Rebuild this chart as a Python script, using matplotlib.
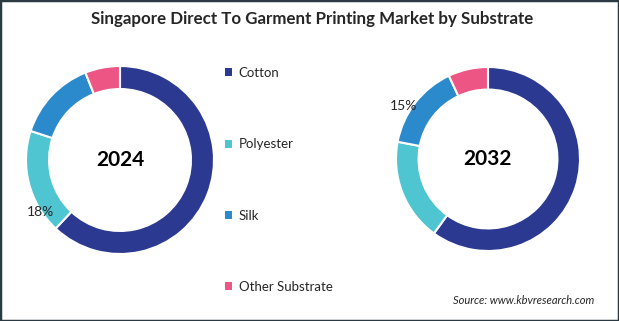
import matplotlib
matplotlib.use('Agg')
import matplotlib.pyplot as plt
from matplotlib.patches import Patch, Rectangle

# data
substrates = ['Cotton', 'Polyester', 'Silk', 'Other Substrate']
share_2024 = [62, 18, 14, 6]
share_2032 = [60, 18, 15, 7]
colors = ['#2B3990', '#4EC5D0', '#2A8ACB', '#EC5584']

plt.rcParams['font.family'] = ['Lato', 'DejaVu Sans']

fig = plt.figure(figsize=(6.19, 3.21), dpi=100)
fig.patch.set_facecolor('white')

W, H = 619, 321


def donut(cx, cy, r, values, year, label_idx, label_xy):
    ax = fig.add_axes([(cx - r) / W, 1 - (cy + r) / H, 2 * r / W, 2 * r / H])
    wedges, _ = ax.pie(values, colors=colors, startangle=90, counterclock=False,
                       radius=1, wedgeprops=dict(width=0.245, edgecolor='white', linewidth=1.5))
    ax.set_xlim(-1, 1)
    ax.set_ylim(-1, 1)
    ax.set_aspect('equal')
    ax.axis('off')
    ax.text(0, 0, year, ha='center', va='center', fontsize=15, fontweight='bold', color='black')
    ax.text(label_xy[0], label_xy[1], '%d%%' % values[label_idx], ha='center', va='center',
            fontsize=10, color='#262626', clip_on=False)
    return wedges


wedges = donut(120, 160, 94, share_2024, '2024', 1, (-0.85, -0.55))
donut(488, 159, 92, share_2032, '2032', 2, (-0.92, 0.58))

# judul
fig.text(0.505, 1 - 19 / H, 'Singapore Direct To Garment Printing Market by Substrate',
         ha='center', va='center', fontsize=12.2, fontweight='bold', color='#262626')

# legend
handles = [Patch(facecolor=c, edgecolor='none') for c in colors]
fig.legend(handles, substrates, loc='upper left', bbox_to_anchor=(225 / W, 1 - 67 / H),
           frameon=False, fontsize=9.5, handlelength=0.55, handleheight=0.55,
           handletextpad=0.5, labelspacing=4.5, borderpad=0, borderaxespad=0,
           labelcolor='#262626')

fig.text(594 / W, 1 - 301 / H, 'Source: www.kbvresearch.com', ha='right', va='center',
         fontsize=8, style='italic', color='#262626')

# bingkai
fig.patches.append(Rectangle((0, 0), 1, 1, transform=fig.transFigure, fill=False,
                             edgecolor='#2B3A42', linewidth=2.5))

fig.savefig('out.png', dpi=100)
plt.close(fig)
